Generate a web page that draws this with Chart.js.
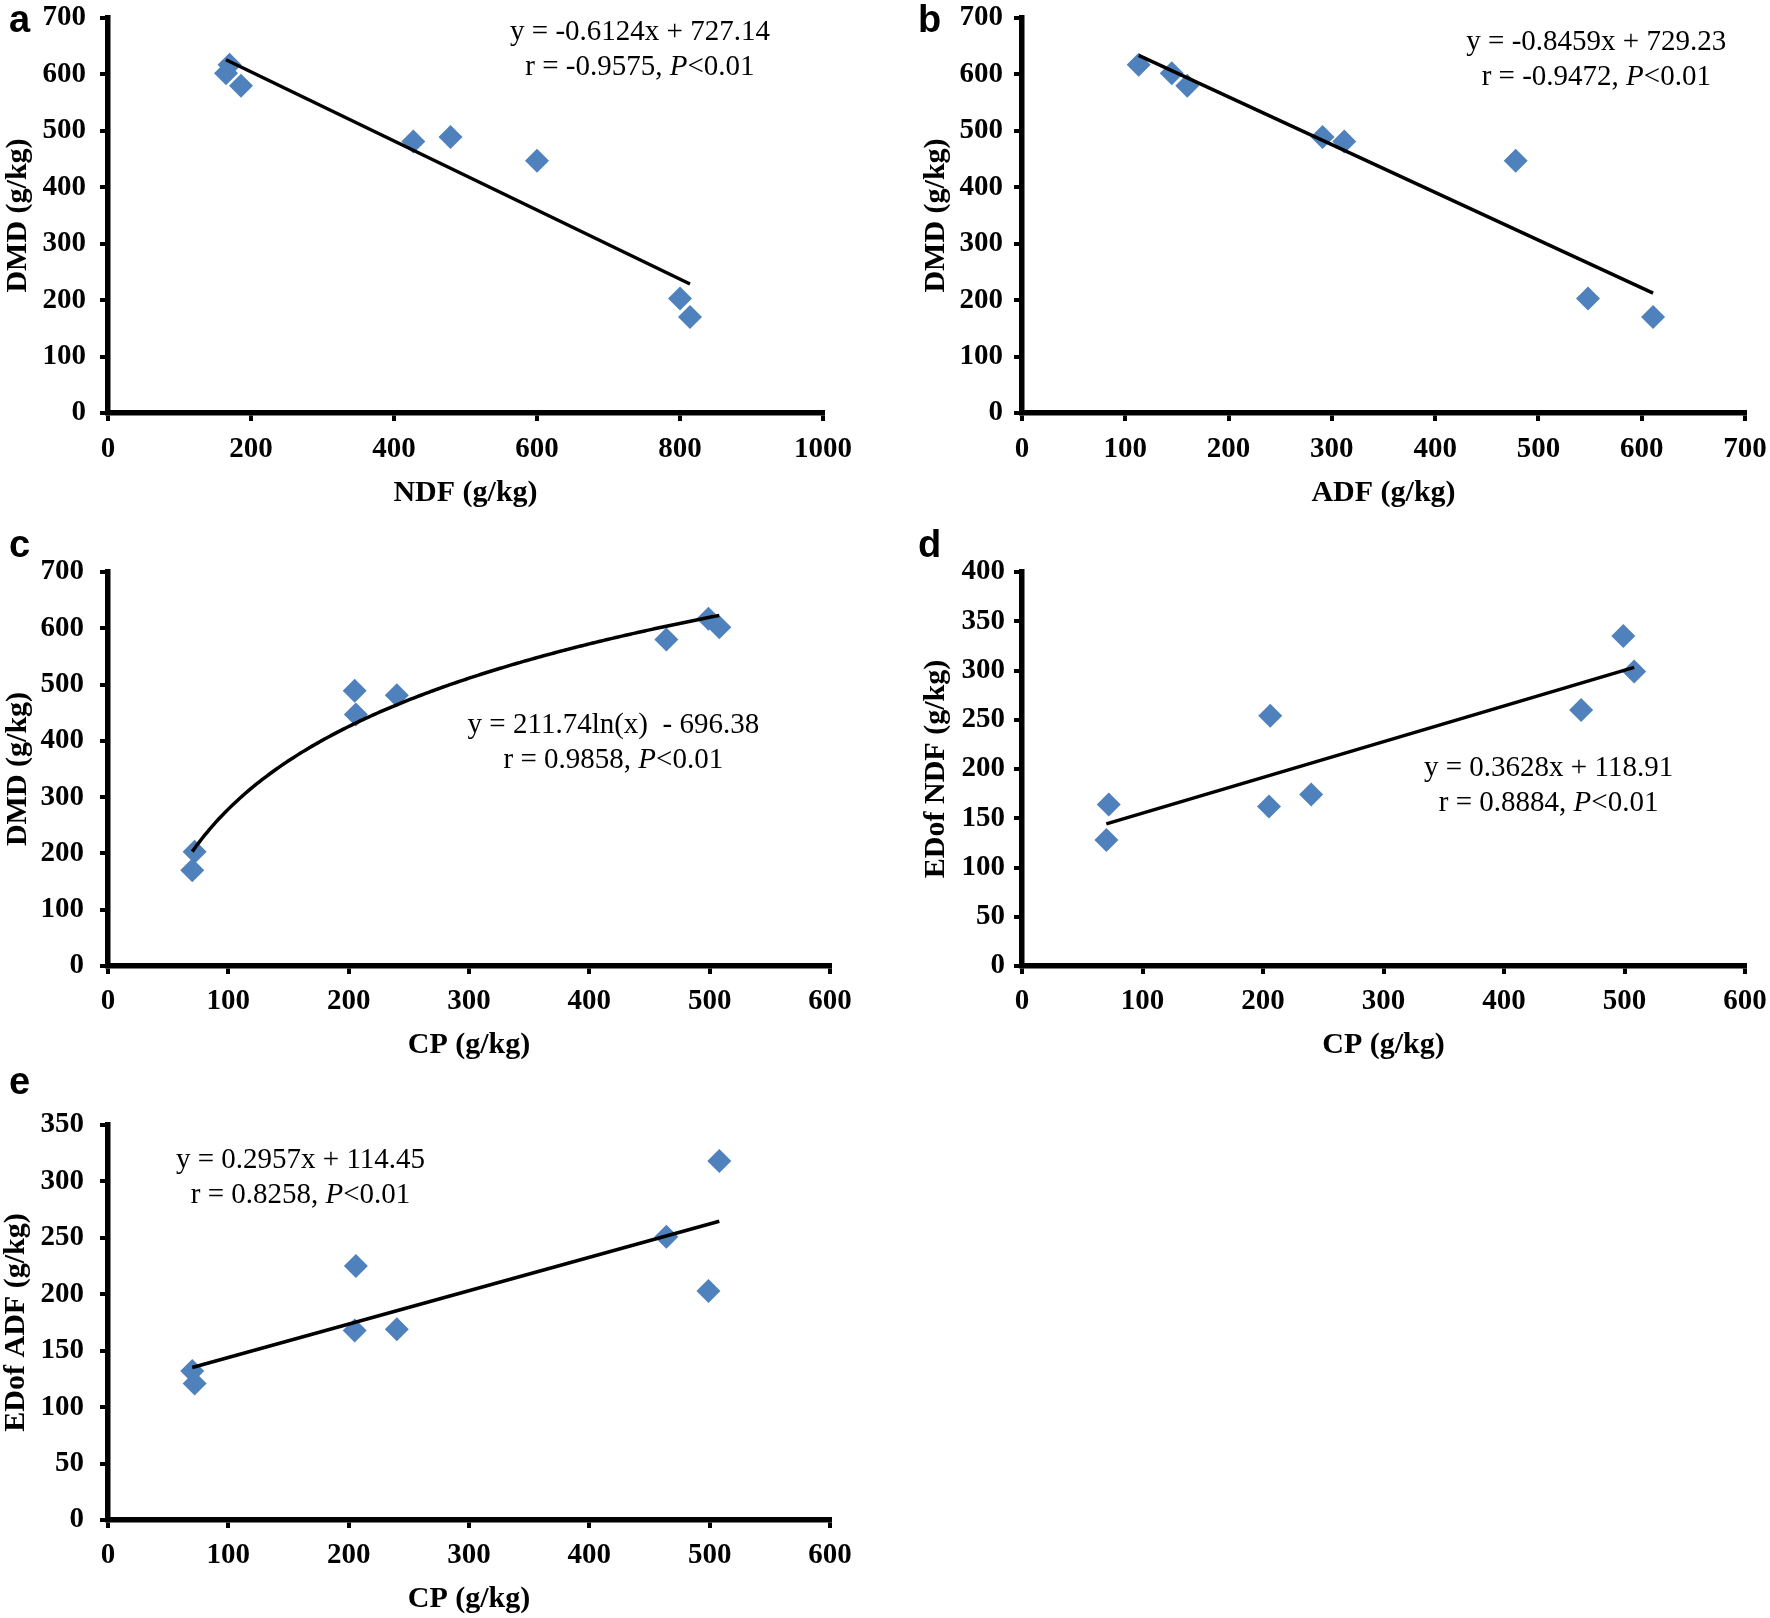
<!DOCTYPE html>
<html>
<head>
<meta charset="utf-8">
<script src="https://cdn.jsdelivr.net/npm/chart.js@4.4.1/dist/chart.umd.min.js"></script>
<style>
body { margin: 0; background: #fff; }
#fig { position: relative; width: 1770px; height: 1618px; background: #fff; overflow: hidden; }
#fig canvas { position: absolute; }
.letter { position: absolute; font: bold 38px 'Liberation Sans', Arial, sans-serif; line-height: 38px; color: #000; }
</style>
</head>
<body>
<div id="fig">
  <canvas id="chartA"></canvas>
  <canvas id="chartB"></canvas>
  <canvas id="chartC"></canvas>
  <canvas id="chartD"></canvas>
  <canvas id="chartE"></canvas>
  <div class="letter" style="left:9px;top:0px">a</div>
  <div class="letter" style="left:918px;top:0px">b</div>
  <div class="letter" style="left:9px;top:525px">c</div>
  <div class="letter" style="left:918px;top:525px">d</div>
  <div class="letter" style="left:9px;top:1062px">e</div>
</div>
<script>
// eight samples, same order in every panel
const dmd   = [617, 602, 580, 489, 481, 447, 203, 170];
const ndf   = [170, 165, 186, 479, 427, 600, 800, 814];
const adf   = [113, 145, 160, 291, 312, 478, 548, 611];
const cp    = [499, 508, 464, 205, 240, 206, 72, 70];
const edNdf = [335, 299, 260, 162, 174, 254, 164, 128];
const edAdf = [203, 318, 251, 168, 169, 225, 121, 132];

// tick values of the axes
const ticksNdf = [0, 200, 400, 600, 800, 1000];
const ticksAdf = [0, 100, 200, 300, 400, 500, 600, 700];
const ticksCp  = [0, 100, 200, 300, 400, 500, 600];
const ticksDmd = [0, 100, 200, 300, 400, 500, 600, 700];
const ticksEdNdf = [0, 50, 100, 150, 200, 250, 300, 350, 400];
const ticksEdAdf = [0, 50, 100, 150, 200, 250, 300, 350];

// trendline coefficients printed on the figure
const fitA = [-0.6124, 727.14];
const fitB = [-0.8459, 729.23];
const fitC = [211.74, -696.38];   // y = a ln(x) + b
const fitD = [0.3628, 118.91];
const fitE = [0.2957, 114.45];

const eqA = ['y = -0.6124x + 727.14', 'r = -0.9575, '];
const eqB = ['y = -0.8459x + 729.23', 'r = -0.9472, '];
const eqC = ['y = 211.74ln(x)  - 696.38', 'r = 0.9858, '];
const eqD = ['y = 0.3628x + 118.91', 'r = 0.8884, '];
const eqE = ['y = 0.2957x + 114.45', 'r = 0.8258, '];

const SERIF = "'Liberation Serif', 'Times New Roman', serif";
const BLUE = '#4F81BD';

function linePoints(xs, fit) {
    const lo = Math.min(...xs), hi = Math.max(...xs);
    return [{x: lo, y: fit[0] * lo + fit[1]}, {x: hi, y: fit[0] * hi + fit[1]}];
}

function logPoints(xs, fit) {
    const lo = Math.min(...xs), hi = Math.max(...xs);
    const pts = [];
    for (let x = lo; x <= hi; x += 2) pts.push({x: x, y: fit[0] * Math.log(x) + fit[1]});
    return pts;
}

// equation box, anchored in data units
const eqPlugin = {
    id: 'eqText',
    afterDraw(chart, args, o) {
        if (!o || !o.lines) return;
        const ctx = chart.ctx;
        const cx = chart.scales.x.getPixelForValue(o.at[0]);
        let cy = chart.scales.y.getPixelForValue(o.at[1]);
        const normal = o.size + 'px ' + SERIF;
        const italic = 'italic ' + o.size + 'px ' + SERIF;
        ctx.save();
        ctx.fillStyle = '#000';
        ctx.textBaseline = 'middle';
        ctx.textAlign = 'left';
        // first line
        ctx.font = normal;
        let w = ctx.measureText(o.lines[0]).width;
        ctx.fillText(o.lines[0], cx - w / 2, cy);
        cy += o.pitch;
        // second line: "r = ..., " + italic P + "<0.01"
        const parts = [[o.lines[1], normal], ['P', italic], ['<0.01', normal]];
        let total = 0;
        parts.forEach(p => { ctx.font = p[1]; total += ctx.measureText(p[0]).width; });
        let x = cx - total / 2;
        parts.forEach(p => {
            ctx.font = p[1];
            ctx.fillText(p[0], x, cy);
            x += ctx.measureText(p[0]).width;
        });
        ctx.restore();
    }
};

function axis(ticks, title, titlePad, tickPad, fixSize, horizontal) {
    return {
        type: 'linear',
        min: ticks[0],
        max: ticks[ticks.length - 1],
        ticks: {
            stepSize: ticks[1] - ticks[0],
            color: '#000',
            padding: tickPad,
            font: {family: SERIF, size: 29, weight: 'bold'},
            callback: v => String(v)
        },
        grid: {
            drawOnChartArea: false,
            drawTicks: true,
            tickLength: 8,
            tickWidth: 4,
            lineWidth: 4,
            tickColor: '#000',
            color: '#000'
        },
        border: {display: true, color: '#000', width: 5.5},
        title: {
            display: true,
            text: title,
            color: '#000',
            padding: horizontal ? {top: 0, bottom: titlePad} : {top: titlePad, bottom: 0},
            font: {family: SERIF, size: 30, weight: 'bold', lineHeight: 1.2}
        },
        afterFit(scale) {
            if (horizontal) scale.height = fixSize; else scale.width = fixSize;
            scale.paddingTop = 0; scale.paddingBottom = 0;
            scale.paddingLeft = 0; scale.paddingRight = 0;
        }
    };
}

function makePanel(p) {
    const cv = document.getElementById(p.id);
    const [bx, by, bw, bh] = p.box;
    const [al, at, ar, ab] = p.area;
    cv.width = bw; cv.height = bh;
    cv.style.left = bx + 'px'; cv.style.top = by + 'px';
    const xBottom = p.xTitleY + 18;
    new Chart(cv, {
        type: 'scatter',
        data: {
            datasets: [
                {
                    type: 'line',
                    data: p.trend,
                    borderColor: '#000',
                    borderWidth: 3.5,
                    pointRadius: 0,
                    fill: false,
                    tension: 0,
                    order: 0
                },
                {
                    data: p.xs.map((v, i) => ({x: v, y: p.ys[i]})),
                    pointStyle: 'rectRot',
                    pointRadius: 12,
                    backgroundColor: BLUE,
                    borderColor: BLUE,
                    borderWidth: 0,
                    order: 1
                }
            ]
        },
        options: {
            responsive: false,
            animation: false,
            layout: {
                padding: {left: 0, top: at - by, right: bx + bw - ar, bottom: by + bh - xBottom}
            },
            scales: {
                x: axis(p.xTicks, p.xTitle, 0, p.xTickPad, xBottom - ab, true),
                y: axis(p.yTicks, p.yTitle, p.yTitleX - bx - 18, p.yTickPad, al - bx, false)
            },
            plugins: {
                legend: {display: false},
                tooltip: {enabled: false},
                eqText: {lines: p.eq, at: p.eqAt, size: 29, pitch: 35}
            }
        },
        plugins: [eqPlugin]
    });
}

makePanel({
    id: 'chartA', box: [0, 0, 880, 540], area: [108, 18, 823, 413],
    xs: ndf, ys: dmd, xTicks: ticksNdf, yTicks: ticksDmd,
    xTitle: 'NDF (g/kg)', yTitle: 'DMD (g/kg)', xTitleY: 493, yTitleX: 18,
    xTickPad: 11, yTickPad: 14,
    trend: linePoints(ndf, fitA), eq: eqA, eqAt: [744, 675]
});
makePanel({
    id: 'chartB', box: [900, 0, 870, 540], area: [1022, 18, 1745, 413],
    xs: adf, ys: dmd, xTicks: ticksAdf, yTicks: ticksDmd,
    xTitle: 'ADF (g/kg)', yTitle: 'DMD (g/kg)', xTitleY: 493, yTitleX: 936,
    xTickPad: 11, yTickPad: 11,
    trend: linePoints(adf, fitB), eq: eqB, eqAt: [556, 657]
});
makePanel({
    id: 'chartC', box: [0, 515, 880, 585], area: [108, 572, 830, 966],
    xs: cp, ys: dmd, xTicks: ticksCp, yTicks: ticksDmd,
    xTitle: 'CP (g/kg)', yTitle: 'DMD (g/kg)', xTitleY: 1045, yTitleX: 18,
    xTickPad: 10, yTickPad: 16,
    trend: logPoints(cp, fitC), eq: eqC, eqAt: [420, 428]
});
makePanel({
    id: 'chartD', box: [900, 515, 870, 585], area: [1022, 572, 1745, 966],
    xs: cp, ys: edNdf, xTicks: ticksCp, yTicks: ticksEdNdf,
    xTitle: 'CP (g/kg)', yTitle: 'EDof NDF (g/kg)', xTitleY: 1045, yTitleX: 936,
    xTickPad: 10, yTickPad: 9,
    trend: linePoints(cp, fitD), eq: eqD, eqAt: [437, 201]
});
makePanel({
    id: 'chartE', box: [0, 1055, 880, 563], area: [108, 1125, 830, 1520],
    xs: cp, ys: edAdf, xTicks: ticksCp, yTicks: ticksEdAdf,
    xTitle: 'CP (g/kg)', yTitle: 'EDof ADF (g/kg)', xTitleY: 1599, yTitleX: 16,
    xTickPad: 10, yTickPad: 16,
    trend: linePoints(cp, fitE), eq: eqE, eqAt: [160, 319]
});
</script>
</body>
</html>
